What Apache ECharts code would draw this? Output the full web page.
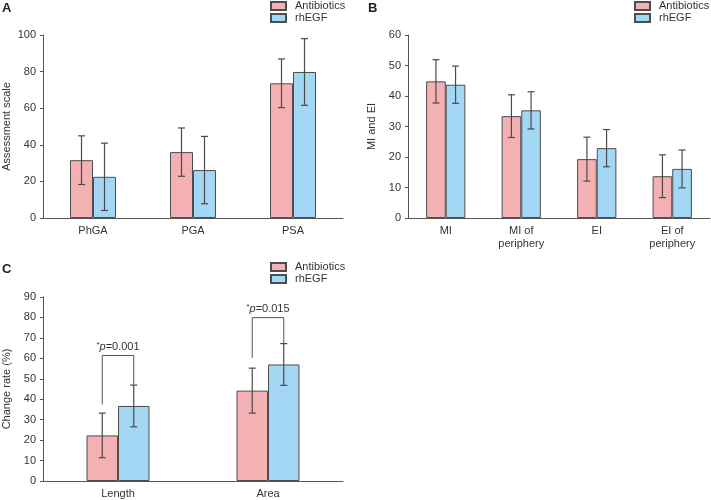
<!DOCTYPE html>
<html>
<head>
<meta charset="utf-8">
<script src="https://cdn.jsdelivr.net/npm/echarts@6/dist/echarts.min.js"></script>
<style>
  html, body { margin: 0; padding: 0; background: #fff; }
  #chart { width: 711px; height: 500px; }
</style>
</head>
<body>
<div id="chart"></div>
<script>
// Panel A: assessment scales
const categoriesA = ['PhGA', 'PGA', 'PSA'];
const antiA = [31.6, 36.0, 73.6];
const antiSdA = [13.3, 13.2, 13.3];
const egfA = [22.5, 26.2, 79.8];
const egfSdA = [18.4, 18.4, 18.2];

// Panel B: MI and EI
const categoriesB = ['MI', 'MI of\nperiphery', 'EI', 'EI of\nperiphery'];
const antiB = [44.8, 33.4, 19.3, 13.7];
const antiSdB = [7.1, 7.0, 7.2, 7.0];
const egfB = [43.7, 35.3, 22.9, 16.1];
const egfSdB = [6.1, 6.1, 6.1, 6.2];

// Panel C: change rate
const categoriesC = ['Length', 'Area'];
const antiC = [22.3, 44.2];
const antiSdC = [10.9, 11.0];
const egfC = [36.7, 57.0];
const egfSdC = [10.2, 10.2];
const pValues = ['0.001', '0.015'];
const bracketTop = [61.4, 79.9];
const bracketLeftFoot = [37.5, 60.2];
const bracketRightFoot = [47.0, 67.4];

const PINK = '#f4b1b3';
const BLUE = '#a3d7f3';
const EDGE = '#4d4d4d';
const FONT = 'Liberation Sans';

let chart = echarts.init(document.getElementById('chart'));

function barSeries(name, data, color, idx, width) {
	return {
		type: 'bar',
		name: name,
		xAxisIndex: idx,
		yAxisIndex: idx,
		data: data,
		barWidth: width,
		barGap: 0,
		itemStyle: {color: color, borderColor: EDGE, borderWidth: 1},
		emphasis: {disabled: true},
	};
}

function errorSeries(means, sds, idx, side, frac) {
	return {
		type: 'custom',
		xAxisIndex: idx,
		yAxisIndex: idx,
		encode: {x: 0, y: 1},
		z: 10,
		silent: true,
		data: means.map((m, i) => [i, m, sds[i]]),
		renderItem: (params, api) => {
			let i = api.value(0);
			let m = api.value(1);
			let s = api.value(2);
			let bw = api.size([1, 0])[0] * frac;
			let hi = api.coord([i, m + s]);
			let lo = api.coord([i, m - s]);
			let x = hi[0] + side * bw / 2;
			let st = {stroke: '#4a4a4a', lineWidth: 1.2};
			return {
				type: 'group',
				children: [
					{type: 'line', shape: {x1: x, y1: hi[1], x2: x, y2: lo[1]}, style: st},
					{type: 'line', shape: {x1: x - 3.5, y1: hi[1], x2: x + 3.5, y2: hi[1]}, style: st},
					{type: 'line', shape: {x1: x - 3.5, y1: lo[1], x2: x + 3.5, y2: lo[1]}, style: st},
				],
			};
		},
	};
}

function bracketSeries(idx, frac) {
	return {
		type: 'custom',
		xAxisIndex: idx,
		yAxisIndex: idx,
		encode: {x: 0, y: 1},
		z: 11,
		silent: true,
		data: pValues.map((p, i) => [i, bracketTop[i], bracketLeftFoot[i], bracketRightFoot[i]]),
		renderItem: (params, api) => {
			let i = api.value(0);
			let bw = api.size([1, 0])[0] * frac;
			let top = api.coord([i, api.value(1)]);
			let lf = api.coord([i, api.value(2)]);
			let rf = api.coord([i, api.value(3)]);
			let xl = top[0] - bw / 2;
			let xr = top[0] + bw / 2;
			let st = {stroke: '#555', lineWidth: 1, fill: null};
			return {
				type: 'group',
				children: [
					{type: 'polyline', shape: {points: [[xl, lf[1]], [xl, top[1]], [xr, top[1]], [xr, rf[1]]]}, style: st},
					{
						type: 'text',
						x: top[0],
						y: top[1] - 9,
						style: {
							text: '{s|*}{i|p}{n|=' + pValues[params.dataIndex] + '}',
							align: 'center',
							verticalAlign: 'middle',
							rich: {
								s: {fontSize: 8, fontFamily: FONT, fill: '#333', verticalAlign: 'top', padding: [0, 0, 4, 0]},
								i: {fontSize: 11, fontFamily: FONT, fontStyle: 'italic', fill: '#333'},
								n: {fontSize: 11, fontFamily: FONT, fill: '#333'},
							},
						},
					},
				],
			};
		},
	};
}

function xAxis(idx, cats) {
	return {
		type: 'category',
		gridIndex: idx,
		data: cats,
		axisLine: {lineStyle: {color: '#555'}},
		axisTick: {length: 4, lineStyle: {color: '#555'}},
		axisLabel: {color: '#333', fontSize: 11, fontFamily: FONT, margin: 6, lineHeight: 13, interval: 0},
	};
}

function yAxis(idx, name, max, interval) {
	return {
		type: 'value',
		gridIndex: idx,
		min: 0,
		max: max,
		interval: interval,
		name: name,
		nameLocation: 'middle',
		nameRotate: 90,
		nameGap: 31,
		nameTextStyle: {color: '#333', fontSize: 11, fontFamily: FONT},
		splitLine: {show: false},
		axisLine: {show: true, lineStyle: {color: '#555'}},
		axisTick: {show: true, length: 3, lineStyle: {color: '#555'}},
		axisLabel: {color: '#333', fontSize: 11, fontFamily: FONT, margin: 7},
	};
}

function legend(left, top) {
	return {
		left: left,
		top: top,
		padding: 0,
		orient: 'vertical',
		data: ['Antibiotics', 'rhEGF'],
		icon: 'rect',
		itemWidth: 15,
		itemHeight: 8,
		itemGap: 0,
		selectedMode: false,
		textStyle: {color: '#333', fontSize: 11, fontFamily: FONT, lineHeight: 12, padding: [0, 0, 0, 4]},
	};
}

function panelLabel(text, x, y) {
	return {
		type: 'text',
		left: x,
		top: y,
		style: {text: text, fill: '#222', font: 'bold 13px ' + FONT},
	};
}

let option = {
	animation: false,
	grid: [
		{left: 42, top: 35, width: 301, height: 183},
		{left: 408, top: 35, width: 302, height: 183},
		{left: 42, top: 297, width: 301, height: 184},
	],
	xAxis: [xAxis(0, categoriesA), xAxis(1, categoriesB), xAxis(2, categoriesC)],
	yAxis: [
		yAxis(0, 'Assessment scale', 100, 20),
		yAxis(1, 'MI and EI', 60, 10),
		yAxis(2, 'Change rate (%)', 90, 10),
	],
	legend: [legend(270, 0), legend(634, 0), legend(270, 261)],
	graphic: [
		panelLabel('A', 2, 2),
		panelLabel('B', 368, 2),
		panelLabel('C', 2, 263),
	],
	series: [
		barSeries('Antibiotics', antiA, PINK, 0, '23%'),
		barSeries('rhEGF', egfA, BLUE, 0, '23%'),
		errorSeries(antiA, antiSdA, 0, -1, 0.23),
		errorSeries(egfA, egfSdA, 0, 1, 0.23),

		barSeries('Antibiotics', antiB, PINK, 1, '26%'),
		barSeries('rhEGF', egfB, BLUE, 1, '26%'),
		errorSeries(antiB, antiSdB, 1, -1, 0.26),
		errorSeries(egfB, egfSdB, 1, 1, 0.26),

		barSeries('Antibiotics', antiC, PINK, 2, '21%'),
		barSeries('rhEGF', egfC, BLUE, 2, '21%'),
		errorSeries(antiC, antiSdC, 2, -1, 0.21),
		errorSeries(egfC, egfSdC, 2, 1, 0.21),
		bracketSeries(2, 0.21),
	],
};

chart.setOption(option);
</script>
</body>
</html>
